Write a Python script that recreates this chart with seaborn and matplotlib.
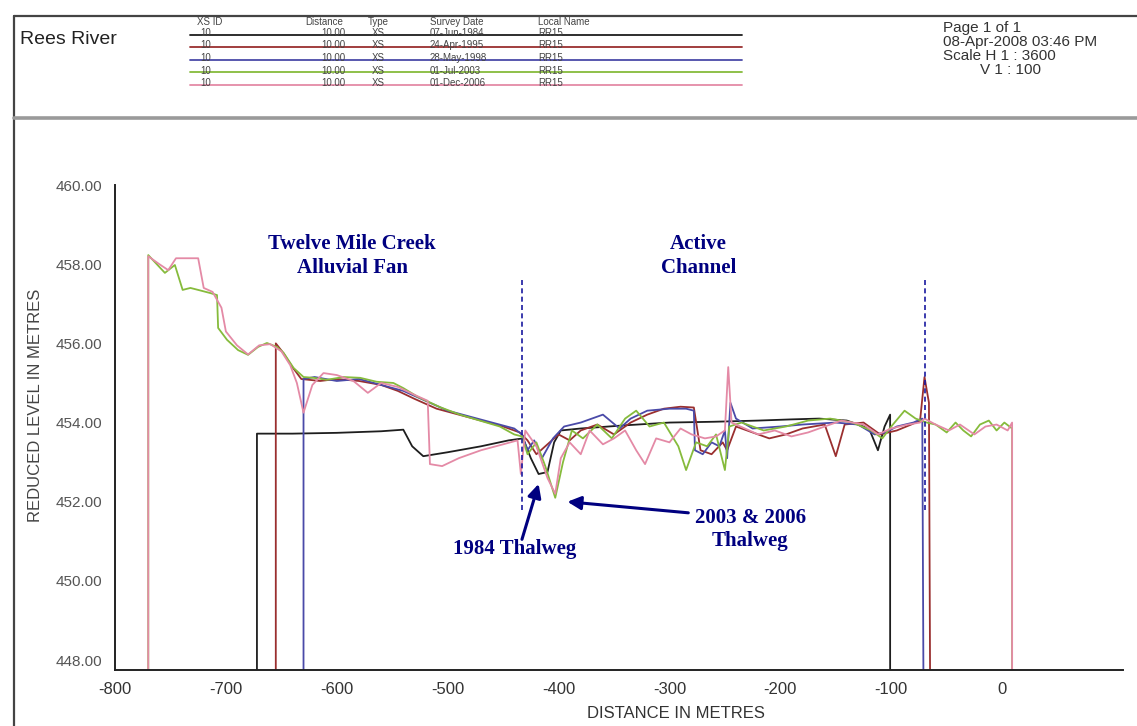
import numpy as np
import pandas as pd
import matplotlib
matplotlib.use("Agg")
import matplotlib.pyplot as plt
from matplotlib.lines import Line2D
import seaborn as sns

# ---- survey register ----
xs_ids = ["10", "10", "10", "10", "10"]
xs_distances = ["10.00", "10.00", "10.00", "10.00", "10.00"]
xs_types = ["XS", "XS", "XS", "XS", "XS"]
survey_dates = ["07-Jun-1984", "24-Apr-1995", "28-May-1998", "01-Jul-2003", "01-Dec-2006"]
local_names = ["RR15", "RR15", "RR15", "RR15", "RR15"]
survey_colors = ["#1e1e1e", "#9a2f2f", "#4a4aa8", "#86bb3c", "#e48aa6"]

# ---- cross-section profiles (distance m, reduced level m) ----
dist_1984 = [-672, -672, -640, -600, -560, -540, -532, -522, -500, -470, -445, -432, -425,
             -418, -410, -404, -398, -380, -340, -300, -260, -220, -190, -165, -140, -120,
             -112, -106, -101, -101]
level_1984 = [447.75, 453.72, 453.72, 453.74, 453.78, 453.82, 453.4, 453.15, 453.25, 453.4,
              453.55, 453.6, 453.1, 452.7, 452.75, 453.5, 453.8, 453.85, 453.93, 454.0,
              454.02, 454.05, 454.08, 454.1, 454.05, 453.85, 453.3, 453.9, 454.2, 447.75]

dist_1995 = [-655, -655, -648, -640, -632, -615, -600, -580, -560, -545, -530, -510, -490,
             -470, -450, -435, -428, -420, -410, -400, -390, -380, -365, -350, -335, -320,
             -305, -290, -278, -272, -262, -252, -248, -240, -225, -210, -195, -180, -160,
             -150, -142, -125, -110, -95, -82, -74, -70, -66, -65]
level_1995 = [447.75, 456.0, 455.75, 455.4, 455.1, 455.05, 455.1, 455.05, 454.95, 454.8,
              454.6, 454.35, 454.2, 454.05, 453.9, 453.75, 453.55, 453.2, 453.45, 453.7,
              453.55, 453.8, 453.95, 453.7, 454.0, 454.2, 454.35, 454.4, 454.38, 453.3,
              453.2, 453.5, 453.3, 453.9, 453.75, 453.6, 453.7, 453.85, 453.95, 453.15,
              453.95, 454.0, 453.7, 453.8, 453.95, 454.05, 455.15, 454.5, 447.75]

dist_1998 = [-630, -630, -620, -600, -580, -560, -540, -520, -500, -480, -460, -440, -433,
             -428, -422, -415, -405, -395, -380, -360, -345, -335, -320, -300, -285, -278,
             -277, -270, -262, -255, -250, -248, -245, -240, -225, -200, -180, -150, -130,
             -115, -105, -95, -80, -72, -71]
level_1998 = [447.75, 455.1, 455.15, 455.05, 455.1, 454.95, 454.8, 454.55, 454.3, 454.15,
              454.0, 453.85, 453.7, 453.3, 453.55, 453.1, 453.6, 453.9, 454.0, 454.2,
              453.85, 454.1, 454.3, 454.35, 454.35, 454.3, 453.3, 453.2, 453.5, 453.4,
              453.8, 453.1, 454.5, 454.1, 453.85, 453.9, 453.95, 454.0, 453.95, 453.7,
              453.75, 453.9, 454.0, 454.1, 447.75]

dist_2003 = [-770, -770, -755, -746, -739, -732, -725, -714, -708, -707, -699, -689, -680,
             -671, -663, -654, -648, -639, -630, -621, -609, -594, -579, -564, -549, -540,
             -527, -507, -489, -471, -453, -440, -433, -428, -420, -412, -403, -396, -388,
             -378, -365, -352, -340, -330, -318, -305, -292, -285, -276, -266, -258, -250,
             -246, -235, -215, -195, -175, -155, -135, -118, -108, -100, -88, -78, -68,
             -60, -50, -42, -35, -28, -20, -12, -5, 2, 9, 9]
level_2003 = [447.75, 458.23, 457.78, 457.98, 457.35, 457.4, 457.35, 457.27, 457.22, 456.39,
              456.09, 455.83, 455.71, 455.91, 456.01, 455.91, 455.76, 455.38, 455.15, 455.13,
              455.08, 455.15, 455.13, 455.03, 455.0, 454.87, 454.65, 454.39, 454.2, 454.05,
              453.9, 453.7, 453.65, 453.2, 453.5, 452.9, 452.1, 453.0, 453.8, 453.6, 453.95,
              453.6, 454.1, 454.3, 453.9, 454.0, 453.4, 452.8, 453.5, 453.4, 453.7, 452.8,
              453.9, 454.0, 453.8, 453.9, 454.05, 454.1, 454.0, 453.8, 453.6, 453.9, 454.3,
              454.1, 454.0, 453.95, 453.75, 454.0, 453.8, 453.65, 453.95, 454.05, 453.8,
              454.0, 453.85, 447.75]

dist_2006 = [-770, -770, -760, -752, -745, -725, -720, -712, -704, -700, -690, -680, -670,
             -660, -650, -642, -636, -630, -622, -612, -600, -585, -572, -560, -545, -530,
             -518, -516, -505, -490, -470, -450, -437, -434, -430, -420, -410, -403, -398,
             -390, -380, -372, -360, -350, -340, -330, -322, -312, -300, -290, -280, -268,
             -258, -250, -247, -244, -232, -220, -205, -190, -175, -160, -145, -125, -112,
             -100, -85, -74, -70, -60, -48, -38, -25, -15, -5, 5, 9, 9]
level_2006 = [447.75, 458.2, 458.0, 457.85, 458.15, 458.15, 457.4, 457.3, 456.9, 456.3,
              455.95, 455.72, 455.95, 455.98, 455.8, 455.45, 455.0, 454.25, 454.95, 455.25,
              455.2, 455.05, 454.75, 455.0, 454.9, 454.7, 454.55, 452.95, 452.9, 453.1,
              453.3, 453.45, 453.55, 452.7, 453.8, 453.4, 452.6, 452.2, 453.1, 453.5, 453.2,
              453.8, 453.45, 453.6, 453.8, 453.3, 452.95, 453.6, 453.5, 453.85, 453.7, 453.6,
              453.65, 453.8, 455.4, 454.0, 453.85, 453.7, 453.8, 453.65, 453.75, 453.9,
              454.05, 453.95, 453.7, 453.85, 453.95, 454.0, 454.1, 453.95, 453.8, 453.95,
              453.7, 453.9, 453.95, 453.8, 454.0, 447.75]

# ---- axis ticks ----
x_ticks = [-800, -700, -600, -500, -400, -300, -200, -100, 0]
y_ticks = [448, 450, 452, 454, 456, 458, 460]

# ---- reach boundaries and thalweg callouts ----
channel_edges = [-433, -70]
thalweg_1984 = (-418, 452.45)
thalweg_0306 = (-392, 452.0)

profiles = [(dist_1984, level_1984), (dist_1995, level_1995), (dist_1998, level_1998),
            (dist_2003, level_2003), (dist_2006, level_2006)]
frames = []
for date, (d, z) in zip(survey_dates, profiles):
    frames.append(pd.DataFrame({"distance": d, "level": z, "survey": date,
                                "order": np.arange(len(d))}))
df = pd.concat(frames, ignore_index=True)
palette = dict(zip(survey_dates, survey_colors))

sns.set_style("white")
plt.rcParams["font.family"] = ["Liberation Sans", "DejaVu Sans"]
plt.rcParams["axes.unicode_minus"] = False

W, H = 1137, 726
fig = plt.figure(figsize=(W / 100, H / 100), dpi=100)
fig.patch.set_facecolor("white")


def fx(px):
    return px / W


def fy(py):
    return 1 - py / H


ax = fig.add_axes([fx(115), fy(670), fx(1123) - fx(115), fy(185) - fy(670)])

sns.lineplot(data=df, x="distance", y="level", hue="survey", hue_order=survey_dates,
             palette=palette, sort=False, estimator=None, legend=False, lw=1.3, ax=ax)

ax.set_xlim(-800, 109)
ax.set_ylim(447.75, 460.0)
for s in ("top", "right"):
    ax.spines[s].set_visible(False)
for s in ("left", "bottom"):
    ax.spines[s].set_color("#222222")
    ax.spines[s].set_linewidth(1.4)

ax.set_xticks(x_ticks)
ax.set_xticklabels([str(v) for v in x_ticks])
ax.set_yticks(y_ticks)
ax.set_yticklabels([f"{v:.2f}" for v in y_ticks])
ax.tick_params(axis="x", direction="inout", length=7, width=1, colors="#222222",
               labelsize=12, labelcolor="#333333", pad=5)
ax.tick_params(axis="y", direction="out", length=4, width=1, colors="#222222",
               labelsize=11, labelcolor="#555555", pad=5)

ax.set_xlabel("DISTANCE IN METRES", fontsize=12, color="#333333")
ax.set_ylabel("REDUCED LEVEL IN METRES", fontsize=12, color="#444444")
ax.xaxis.set_label_coords(0.556, -0.089)
ax.xaxis.label.set_va("center")
ax.yaxis.set_label_coords(-0.079, 0.546)
ax.yaxis.label.set_va("center")

# reach boundaries
for xe in channel_edges:
    ax.plot([xe, xe], [451.8, 457.65], color="#1a1aa0", lw=1.2, ls=(0, (3, 2)))

navy = "#000080"
serif = ["Liberation Serif", "DejaVu Serif"]
note_size = 15
ax.text(-586, 458.2, "Twelve Mile Creek\nAlluvial Fan", ha="center", va="center",
        fontsize=note_size, fontweight="bold", color=navy, family=serif, linespacing=1.25)
ax.text(-274, 458.2, "Active\nChannel", ha="center", va="center",
        fontsize=note_size, fontweight="bold", color=navy, family=serif, linespacing=1.25)

arrow = dict(arrowstyle="-|>", color=navy, lw=2.2, mutation_scale=20, shrinkA=0, shrinkB=0)
ax.annotate("", xy=thalweg_1984, xytext=(-433, 451.05), arrowprops=arrow)
ax.text(-440, 450.8, "1984 Thalweg", ha="center", va="center", fontsize=note_size,
        fontweight="bold", color=navy, family=serif)
ax.annotate("", xy=thalweg_0306, xytext=(-283, 451.72), arrowprops=arrow)
ax.text(-227, 451.3, "2003 & 2006\nThalweg", ha="center", va="center", fontsize=note_size,
        fontweight="bold", color=navy, family=serif, linespacing=1.25)

# ---- page frame and header block ----
fig.add_artist(Line2D([fx(14), 1], [fy(16), fy(16)], color="#444444", lw=1.6))
fig.add_artist(Line2D([fx(14), fx(14)], [fy(16), 0], color="#444444", lw=1.6))
fig.add_artist(Line2D([fx(14), 1], [fy(118), fy(118)], color="#9a9a9a", lw=2.6))

fig.text(fx(20), fy(39), "Rees River", fontsize=14, color="#222222", va="center")

info = ["Page 1 of 1", "08-Apr-2008 03:46 PM", "Scale H 1 : 3600"]
for i, t in enumerate(info):
    fig.text(fx(943), fy(28 + 14 * i), t, fontsize=11, color="#333333", va="center")
fig.text(fx(980), fy(70), "V 1 : 100", fontsize=11, color="#333333", va="center")

hdr_size = 7
hdr_col = "#444444"
fig.text(fx(197), fy(22), "XS ID", fontsize=hdr_size, color=hdr_col, va="center")
fig.text(fx(305), fy(22), "Distance", fontsize=hdr_size, color=hdr_col, va="center")
fig.text(fx(368), fy(22), "Type", fontsize=hdr_size, color=hdr_col, va="center")
fig.text(fx(430), fy(22), "Survey Date", fontsize=hdr_size, color=hdr_col, va="center")
fig.text(fx(538), fy(22), "Local Name", fontsize=hdr_size, color=hdr_col, va="center")
for i in range(len(survey_dates)):
    yr = 33 + 12.5 * i
    fig.add_artist(Line2D([fx(190), fx(742)], [fy(yr + 1.5), fy(yr + 1.5)],
                          color=survey_colors[i], lw=1.3))
    fig.text(fx(200), fy(yr), xs_ids[i], fontsize=hdr_size, color=hdr_col, va="center")
    fig.text(fx(345), fy(yr), xs_distances[i], fontsize=hdr_size, color=hdr_col,
             va="center", ha="right")
    fig.text(fx(372), fy(yr), xs_types[i], fontsize=hdr_size, color=hdr_col, va="center")
    fig.text(fx(430), fy(yr), survey_dates[i], fontsize=hdr_size, color=hdr_col, va="center")
    fig.text(fx(538), fy(yr), local_names[i], fontsize=hdr_size, color=hdr_col, va="center")

fig.savefig("out.png", dpi=100, facecolor="white")
